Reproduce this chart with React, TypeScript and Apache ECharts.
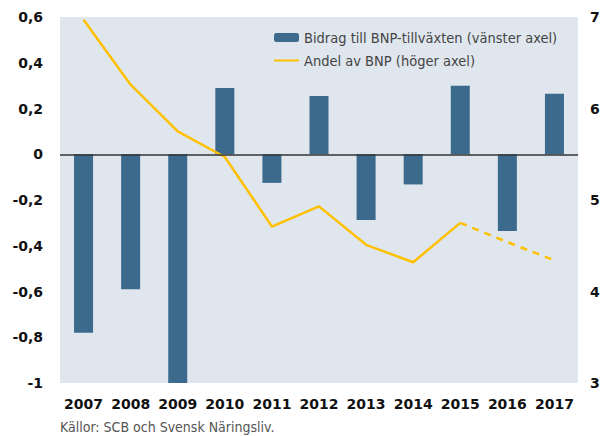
import React, { useEffect, useRef } from "react";
import * as echarts from "echarts";

const years = ["2007", "2008", "2009", "2010", "2011", "2012", "2013", "2014", "2015", "2016", "2017"];
const contribution = [-0.78, -0.59, -1.0, 0.29, -0.125, 0.255, -0.287, -0.132, 0.3, -0.335, 0.265];
const shareActual = [6.97, 6.26, 5.75, 5.47, 4.71, 4.93, 4.51, 4.32, 4.75, null, null];
const shareForecast = [null, null, null, null, null, null, null, null, 4.75, 4.54, 4.34];
const barName = "Bidrag till BNP-tillväxten (vänster axel)";
const lineName = "Andel av BNP (höger axel)";
const sourceText = "Källor: SCB och Svensk Näringsliv.";

const condensed = "'Liberation Sans Narrow', 'DejaVu Sans Condensed', 'Roboto', sans-serif";
const boldFont = "'DejaVu Sans', sans-serif";

export default function App() {
  const ref = useRef<HTMLDivElement>(null);
  useEffect(() => {
    if (!ref.current) return;
    const chart = echarts.init(ref.current, null, { renderer: "svg" });
    const fmt = (v: number) => String(Math.round(v * 10) / 10).replace(".", ",");
    chart.setOption({
      animation: false,
      backgroundColor: "#ffffff",
      grid: {
        left: 60,
        right: 34,
        top: 17,
        bottom: 53,
        show: true,
        backgroundColor: "#dfe6ee",
        borderWidth: 0,
      },
      legend: {
        left: 273,
        top: 30,
        padding: 0,
        orient: "vertical",
        itemWidth: 25,
        itemHeight: 9,
        itemGap: 8,
        data: [barName, { name: lineName, itemStyle: { opacity: 0 } }],
        textStyle: { fontFamily: condensed, fontSize: 14.5, color: "#444" },
      },
      graphic: [
        {
          type: "text",
          x: 60,
          y: 427,
          style: {
            text: sourceText,
            fontFamily: condensed,
            fontSize: 14,
            fill: "#555",
            verticalAlign: "middle",
          },
        },
      ],
      xAxis: {
        type: "category",
        data: years,
        axisLine: { show: false },
        axisTick: { show: false },
        axisLabel: {
          interval: 0,
          fontFamily: boldFont,
          fontWeight: "bold",
          fontSize: 14,
          color: "#111",
          margin: 14,
        },
        splitLine: { show: false },
      },
      yAxis: [
        {
          type: "value",
          min: -1,
          max: 0.6,
          interval: 0.2,
          axisLine: { show: false },
          axisTick: { show: false },
          splitLine: { show: false },
          axisLabel: {
            formatter: fmt,
            fontFamily: boldFont,
            fontWeight: "bold",
            fontSize: 14,
            color: "#111",
            margin: 17,
          },
        },
        {
          type: "value",
          min: 3,
          max: 7,
          interval: 1,
          position: "right",
          axisLine: { show: false },
          axisTick: { show: false },
          splitLine: { show: false },
          axisLabel: {
            fontFamily: boldFont,
            fontWeight: "bold",
            fontSize: 14,
            color: "#111",
            margin: 12,
          },
        },
      ],
      series: [
        {
          name: barName,
          type: "bar",
          data: contribution,
          yAxisIndex: 0,
          barWidth: 19,
          itemStyle: { color: "#3b6a8c" },
          markLine: {
            silent: true,
            symbol: "none",
            label: { show: false },
            lineStyle: { color: "#333", width: 1.5, type: "solid" },
            data: [{ yAxis: 0 }],
          },
        },
        {
          name: lineName,
          type: "line",
          data: shareActual,
          yAxisIndex: 1,
          symbol: "none",
          lineStyle: { color: "#ffc000", width: 2.5 },
          itemStyle: { color: "#ffc000" },
        },
        {
          name: lineName,
          type: "line",
          data: shareForecast,
          yAxisIndex: 1,
          symbol: "none",
          lineStyle: { color: "#ffc000", width: 2.5, type: [7, 6] },
          itemStyle: { color: "#ffc000" },
        },
      ],
    });
    return () => chart.dispose();
  }, []);
  return (
    <div
      ref={ref}
      style={{ position: "absolute", left: 0, top: 0, width: 612, height: 436 }}
    />
  );
}
